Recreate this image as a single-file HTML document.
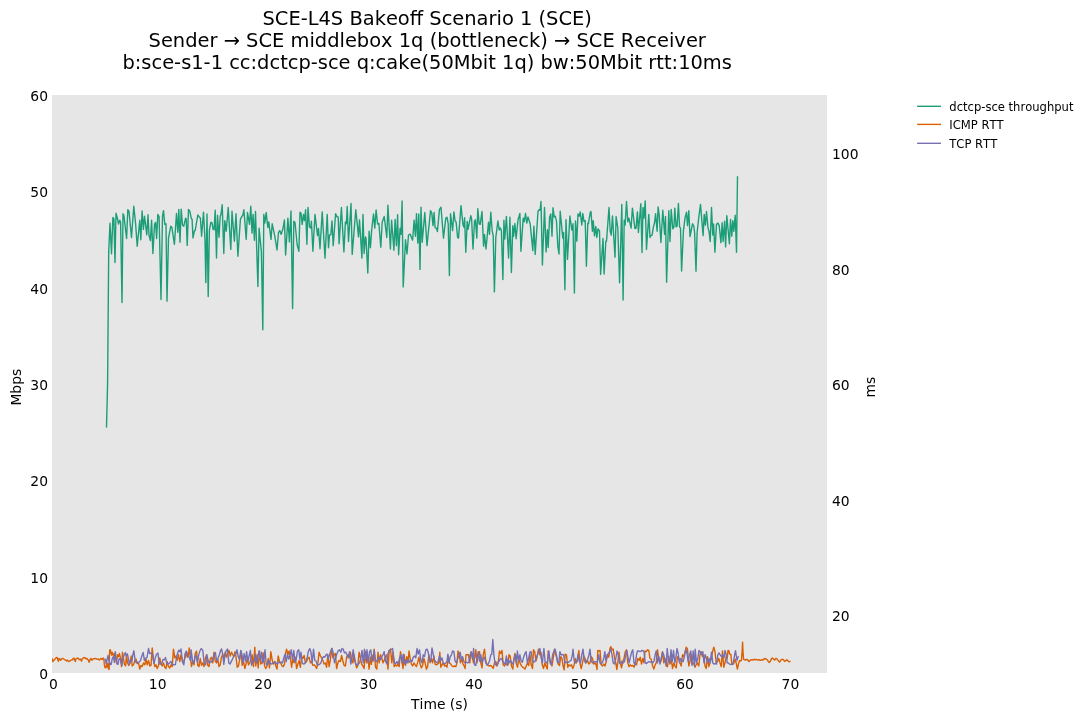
<!DOCTYPE html>
<html lang="en"><head><meta charset="utf-8"><title>SCE-L4S Bakeoff Scenario 1 (SCE)</title>
<style>
html,body{margin:0;padding:0;background:#fff;}
body{width:1088px;height:721px;overflow:hidden;}
svg{display:block;}
text{font-family:"DejaVu Sans","Liberation Sans",sans-serif;fill:#000;font-kerning:none;}
.tick{font-size:13.89px;}
.lab{font-size:13.89px;}
.leg{font-size:11.57px;}
.title{font-size:19.44px;}
.ln{fill:none;stroke-width:1.39;stroke-linejoin:round;stroke-linecap:butt;}
</style></head><body>
<svg width="1088" height="721" viewBox="0 0 1088 721">
<rect x="0" y="0" width="1088" height="721" fill="#ffffff"/>
<rect x="52" y="95" width="775" height="578" fill="#e6e6e6"/>
<clipPath id="ax"><rect x="52" y="95" width="775" height="578"/></clipPath>
<g clip-path="url(#ax)">
<polyline class="ln" stroke="#1b9e77" points="106.5,427.5 107.6,383.5 108.7,252.0 110.0,223.1 111.5,253.8 112.9,217.5 113.9,219.0 115.0,262.5 116.0,213.1 117.5,218.8 118.5,224.0 119.8,220.2 120.6,222.5 122.0,302.5 123.0,213.8 123.9,215.6 126.6,238.5 127.8,209.8 129.0,211.2 131.5,237.5 133.8,206.2 135.6,223.8 137.2,246.2 139.8,220.2 140.8,239.8 142.1,211.0 143.4,229.4 144.5,216.2 146.8,234.8 148.0,214.8 149.0,235.0 150.4,240.6 151.6,220.2 152.9,253.5 154.6,223.8 155.6,222.5 156.6,238.5 157.8,214.4 159.1,216.9 161.0,299.6 162.5,216.2 163.5,210.6 164.8,224.4 166.0,223.8 167.0,301.2 168.5,238.1 170.8,226.2 171.9,227.5 174.4,244.4 176.5,213.5 177.8,232.2 178.8,209.4 180.0,242.2 181.2,209.1 182.5,225.0 183.8,226.2 185.6,218.1 186.2,218.8 187.2,245.4 188.5,209.4 189.8,211.2 191.2,218.1 192.1,219.4 193.0,237.9 194.4,231.0 195.2,230.4 197.8,215.0 199.4,217.2 200.4,218.1 201.6,236.2 203.5,212.1 205.0,240.0 205.8,282.5 207.0,214.0 208.2,296.5 209.4,230.0 210.9,222.2 212.1,223.1 213.1,229.4 214.1,229.8 215.2,210.2 216.5,258.1 217.5,215.2 219.0,237.2 220.2,216.2 221.0,214.4 222.2,204.8 223.8,253.5 224.8,220.6 226.2,231.2 228.2,207.5 230.8,249.4 232.0,211.2 234.4,241.2 236.0,213.8 237.9,256.2 240.4,219.4 241.6,216.9 242.9,215.0 243.9,209.8 246.2,239.4 247.5,212.5 249.5,224.4 250.8,206.2 252.0,233.1 253.1,214.4 254.4,240.2 255.5,211.5 257.9,286.6 259.1,228.1 261.4,251.9 262.8,329.8 263.8,214.4 264.8,223.1 266.2,212.5 267.2,221.9 267.9,227.5 268.8,221.9 271.0,239.4 272.2,223.8 274.8,236.2 277.0,250.0 278.5,232.5 279.8,230.6 281.2,234.4 282.9,228.8 284.4,220.0 285.6,255.0 287.9,218.1 289.4,241.9 291.0,211.0 292.6,308.5 293.8,221.2 295.0,222.5 297.2,245.0 298.9,251.2 300.0,212.2 301.0,213.1 302.2,224.4 303.5,214.4 304.5,220.6 305.6,209.8 306.9,244.4 308.0,207.5 309.5,226.9 310.8,228.1 311.4,221.2 312.9,251.2 315.0,214.4 317.5,235.6 318.5,228.5 320.0,248.8 322.2,211.9 325.0,258.1 327.2,214.4 328.5,247.8 329.5,235.0 330.8,234.8 332.0,221.0 333.2,245.6 335.6,213.8 337.0,216.9 338.2,216.9 339.1,243.8 341.4,207.5 343.9,251.9 345.4,221.9 346.4,223.8 347.2,206.5 348.5,241.5 351.0,203.5 352.2,254.4 355.8,209.8 358.5,236.9 359.5,220.0 361.9,258.1 363.0,214.4 364.1,253.5 365.4,236.9 366.0,238.1 367.8,273.1 369.1,231.2 370.4,247.8 371.6,230.9 373.5,214.0 374.8,228.1 376.1,210.0 377.6,224.0 378.9,223.5 380.8,247.2 382.2,222.2 384.2,216.5 386.8,237.5 387.9,205.2 390.4,249.0 391.6,220.2 393.9,250.2 395.1,219.4 396.4,245.6 397.6,214.8 398.6,254.8 400.1,228.1 401.0,234.4 402.1,201.0 403.2,286.9 405.5,239.8 407.0,254.0 408.5,235.0 410.1,234.0 412.6,240.2 414.1,220.2 415.4,236.2 416.5,213.8 417.8,243.1 418.8,214.0 420.0,269.4 421.0,207.2 422.2,242.2 424.8,212.5 427.0,245.6 430.5,210.6 431.8,213.1 433.0,225.6 434.1,212.5 435.1,227.8 436.4,228.1 437.4,231.5 439.5,209.4 441.0,207.2 443.5,238.1 445.8,218.1 447.0,217.2 448.2,223.8 449.4,275.6 450.5,213.8 452.6,230.6 453.9,211.9 455.1,221.0 456.1,221.9 457.6,237.5 458.5,238.1 461.0,205.6 463.0,225.0 464.0,227.2 464.6,217.8 465.8,252.2 467.2,221.5 468.0,229.4 470.8,215.6 471.6,218.8 473.0,249.0 474.5,221.2 475.4,219.8 476.8,238.1 477.8,208.8 479.2,224.0 480.2,224.4 482.0,211.5 483.6,246.2 484.5,234.4 486.0,249.0 488.5,222.2 489.5,234.4 490.8,212.2 492.2,231.2 493.2,235.6 494.4,291.9 495.8,237.5 497.9,221.0 499.2,230.0 500.1,227.8 501.4,230.6 502.9,279.6 503.9,220.2 504.8,239.0 506.4,216.5 508.6,258.1 509.9,217.2 511.4,272.5 512.8,225.6 513.6,236.2 514.9,223.5 516.1,238.8 518.0,220.0 519.9,213.5 520.9,251.2 523.2,218.1 524.2,221.9 525.5,213.5 526.8,223.1 528.0,216.9 530.2,224.0 532.8,250.6 533.9,226.2 535.2,254.4 538.0,211.2 539.2,209.8 540.1,210.0 541.0,201.5 542.4,265.0 544.5,207.5 546.1,251.9 547.4,229.8 548.2,247.5 549.6,217.2 550.8,214.0 552.0,236.2 553.0,207.8 554.2,216.9 555.2,216.2 556.5,221.2 557.8,246.2 559.0,254.0 560.2,211.2 562.8,238.1 563.6,232.5 564.9,289.8 566.0,219.8 567.5,259.4 569.9,216.0 571.8,230.0 573.0,223.8 574.4,293.1 575.5,221.0 576.8,241.2 578.0,214.0 579.2,216.2 580.2,211.9 581.8,225.0 582.8,213.5 584.0,221.5 585.2,220.6 586.4,266.2 587.8,223.1 588.4,223.8 590.2,212.5 591.0,211.5 592.4,231.2 593.2,220.6 594.5,236.0 595.8,226.5 596.8,237.5 598.0,228.8 599.5,231.0 600.6,274.4 603.0,238.5 604.1,274.0 605.8,241.2 606.5,241.2 609.0,207.5 610.2,231.2 611.2,235.2 612.5,216.0 615.0,257.2 616.1,216.5 617.8,228.1 619.6,282.8 621.8,204.4 623.1,300.0 624.2,220.2 625.1,225.0 626.5,201.5 627.8,221.9 628.9,218.1 631.1,228.1 632.4,208.1 634.9,228.5 636.1,228.1 637.4,211.9 638.4,232.5 640.8,203.8 642.0,252.5 643.0,207.5 644.0,218.1 645.2,201.0 646.5,249.4 648.8,214.4 650.0,237.5 650.9,235.6 652.1,235.2 653.4,226.9 654.6,222.5 655.6,213.8 657.1,231.2 658.1,206.9 659.2,215.0 660.9,242.5 662.8,210.2 664.6,234.4 665.5,216.5 666.6,282.2 668.8,210.6 670.0,241.5 671.2,209.4 672.8,228.8 674.0,226.9 674.8,208.1 676.1,226.9 677.1,226.2 678.4,203.5 679.6,226.9 680.5,228.1 681.6,271.0 683.4,231.2 685.0,218.1 686.5,212.2 687.5,225.6 688.8,210.6 690.0,236.5 692.5,223.8 693.8,226.2 694.6,232.5 696.0,271.2 697.1,232.5 699.0,215.6 700.5,204.4 703.1,235.6 704.2,214.4 705.4,225.2 706.5,211.5 708.0,228.1 709.0,231.2 710.2,241.5 711.5,207.5 712.8,235.0 713.6,224.0 714.9,252.2 716.5,224.4 718.0,223.1 719.2,225.6 720.9,242.8 722.1,222.8 723.1,241.5 724.6,221.2 725.6,246.9 726.8,215.6 729.4,243.8 730.5,219.4 731.8,236.2 732.8,220.6 733.8,231.2 735.2,215.2 736.5,252.2 737.5,176.2"/>
<polyline class="ln" stroke="#d95f02" points="52.2,658.4 52.8,661.6 54.1,660.0 55.3,658.8 56.2,657.8 57.0,657.4 57.6,658.8 58.3,661.2 59.1,658.4 59.9,659.1 60.6,660.3 61.6,658.8 62.5,658.4 63.4,658.8 64.7,659.7 65.6,660.1 66.6,661.1 67.5,660.1 68.8,661.6 70.0,660.9 71.2,660.0 72.5,659.9 73.2,658.4 74.1,658.1 74.7,660.0 75.3,661.6 75.9,658.8 76.9,658.4 77.8,658.0 78.4,658.8 79.4,659.7 80.3,659.1 80.9,660.0 81.6,661.2 82.2,658.8 83.1,658.1 84.1,657.5 85.0,657.8 85.9,658.8 86.9,658.4 87.5,659.4 88.4,660.0 89.1,662.2 90.0,659.7 90.9,658.4 91.9,660.3 92.8,659.1 93.8,658.6 94.7,658.8 95.6,658.4 96.6,658.8 97.5,659.4 98.4,659.1 99.4,660.1 100.3,658.8 101.2,658.4 102.2,659.4 103.1,658.1 103.8,658.8 104.4,665.0 105.0,667.5 105.9,667.8 106.6,664.7 107.2,666.9 107.8,663.1 108.4,668.8 109.1,669.4 109.4,658.8 109.7,650.0 110.3,649.7 110.9,652.5 111.6,655.0 112.2,652.2 112.8,653.8 113.4,655.6 114.1,657.2 114.4,653.5 115.6,657.2 116.5,662.9 117.5,654.8 118.5,656.6 119.4,653.5 120.4,657.9 121.5,666.6 122.5,652.2 123.5,658.5 124.4,664.1 125.6,666.0 126.5,654.8 127.5,662.9 128.8,665.4 130.0,662.9 131.2,656.0 132.2,666.0 133.5,664.8 134.8,661.0 136.0,659.1 137.2,663.5 138.5,662.9 139.8,669.1 141.0,665.4 142.2,666.6 143.5,662.9 144.8,664.8 146.0,659.1 147.2,664.8 148.5,660.4 149.8,666.0 151.0,665.4 152.2,647.9 153.5,659.8 154.8,666.6 156.0,664.8 157.2,668.5 158.5,665.4 159.8,657.9 161.0,664.1 162.2,666.0 163.5,662.9 164.8,667.2 166.0,668.5 167.2,661.6 168.5,666.6 169.8,667.9 171.0,664.8 172.2,666.6 173.5,649.1 174.8,657.9 176.0,656.0 177.2,660.4 178.5,654.8 179.8,661.6 181.0,654.8 182.2,659.8 183.5,662.9 184.8,658.5 186.0,652.2 187.2,657.2 188.5,654.8 189.2,647.9 190.2,656.0 191.5,666.6 192.8,661.0 194.0,664.8 195.2,653.5 196.5,651.0 197.8,665.4 199.0,666.6 200.2,658.5 201.5,665.4 202.8,662.9 204.0,666.6 205.2,659.1 206.5,654.8 207.8,665.4 209.0,666.6 210.2,659.1 211.5,657.2 212.8,662.9 214.0,652.2 215.2,661.0 216.5,662.9 217.8,659.1 219.0,666.6 220.2,664.8 221.5,657.2 222.8,654.1 224.0,659.1 225.2,652.2 226.5,657.2 227.8,652.9 229.0,650.4 230.2,656.0 231.5,652.2 232.8,654.8 234.0,656.6 235.0,651.6 236.0,656.6 237.2,667.2 238.5,666.0 239.8,658.5 241.0,651.0 242.2,665.4 243.5,661.0 244.8,668.5 246.0,664.1 247.2,658.5 248.5,664.8 249.8,662.9 251.0,658.5 252.2,654.8 253.5,666.6 254.8,647.2 255.8,666.0 257.0,654.8 258.2,667.9 259.5,651.0 260.8,664.1 262.0,662.9 263.2,652.9 264.5,665.4 265.8,668.5 267.0,666.0 268.2,658.5 269.5,667.9 270.8,651.6 272.0,659.1 273.2,664.1 274.5,661.6 275.8,666.0 277.0,669.1 278.2,656.0 279.5,661.6 280.8,662.9 282.0,666.0 283.2,666.6 284.5,664.1 285.8,652.2 286.6,649.1 287.9,654.8 289.1,651.0 290.4,657.9 291.6,667.2 292.9,658.5 294.1,662.9 295.4,657.2 296.6,668.5 297.9,664.1 299.1,660.4 300.4,667.2 301.6,656.6 302.9,658.5 304.1,655.4 305.4,662.9 306.6,661.6 307.9,658.5 309.1,657.2 310.4,662.9 311.6,661.6 312.9,665.4 314.1,664.8 315.4,666.0 316.6,668.5 317.9,662.9 319.1,652.2 320.4,656.0 321.6,657.9 322.9,660.4 324.1,664.1 325.4,662.9 326.6,667.2 327.9,654.8 329.1,666.6 330.4,659.8 331.6,648.5 332.9,657.9 334.1,654.8 335.4,653.5 336.6,668.5 337.9,662.9 339.1,660.4 340.4,661.6 341.6,655.4 342.9,661.0 344.1,665.4 345.4,666.0 346.6,657.2 347.9,654.8 349.1,657.9 350.4,652.2 351.6,659.8 352.9,662.9 354.1,654.8 355.4,662.9 356.6,667.9 357.9,665.4 359.1,652.2 360.4,657.9 361.6,664.1 362.9,666.0 364.1,668.5 365.4,651.6 366.6,662.9 367.9,656.0 369.1,669.1 370.4,657.2 371.4,664.4 372.0,654.8 373.2,661.0 374.2,649.1 375.5,667.2 376.8,669.1 378.0,652.2 379.2,662.9 380.5,654.8 381.8,657.9 383.0,662.9 384.2,660.4 385.5,656.6 386.8,654.8 388.0,669.1 389.2,651.0 390.5,649.1 391.8,662.9 393.0,652.2 394.2,666.6 395.5,664.8 396.8,666.0 398.0,664.1 399.2,666.6 400.5,651.6 401.8,661.0 403.0,668.5 404.2,654.8 405.5,665.4 406.8,656.6 408.0,662.9 409.0,651.0 410.1,657.9 411.4,664.1 412.6,666.0 413.9,662.9 415.1,664.8 416.4,666.6 417.6,662.9 418.9,657.2 420.1,664.1 421.4,667.9 422.6,665.4 423.9,658.5 425.1,662.9 426.4,669.1 427.6,666.6 428.9,654.8 430.1,662.9 431.4,658.5 432.6,662.9 433.9,656.0 435.1,664.1 436.4,664.8 437.6,664.1 438.9,662.9 439.8,652.2 440.8,667.2 442.0,664.8 443.2,662.9 444.5,666.0 445.8,665.4 447.0,667.2 448.2,656.0 449.5,662.9 450.8,664.1 452.0,666.0 453.2,666.6 454.5,666.0 455.8,666.6 457.0,662.9 458.0,651.0 459.2,654.8 460.5,662.9 461.8,658.5 463.0,664.1 464.2,666.0 465.1,668.5 466.0,654.8 467.2,654.8 468.5,654.8 469.8,662.9 471.0,651.6 472.2,656.6 473.5,662.9 474.8,657.2 475.8,649.8 477.0,662.9 478.2,654.8 479.5,651.6 480.8,662.9 482.0,667.9 483.2,654.8 484.5,649.1 485.8,661.0 487.0,664.8 488.2,665.4 489.5,666.0 490.8,665.4 492.0,666.6 493.2,668.5 494.5,662.9 495.8,661.6 497.0,666.0 498.2,662.9 499.5,651.0 500.8,653.5 502.0,650.4 503.2,664.8 504.5,666.0 505.8,662.9 507.0,664.8 508.0,664.8 509.0,654.8 510.2,656.0 511.5,666.0 512.8,669.1 514.0,658.5 515.0,653.5 516.2,662.9 517.5,667.2 518.8,658.5 520.0,662.9 521.2,665.4 522.5,667.2 523.8,667.9 525.0,669.1 526.2,666.0 527.5,662.9 528.8,665.4 530.0,654.8 531.2,664.8 532.5,668.5 533.5,649.8 534.8,652.2 536.0,661.0 537.2,656.6 538.5,649.1 539.8,654.8 541.0,652.2 542.2,664.8 543.5,668.5 544.8,662.9 546.0,666.0 547.2,669.1 548.2,651.0 549.5,657.9 550.8,662.9 552.0,666.0 553.2,658.5 554.5,649.1 555.8,654.8 557.0,658.5 558.2,664.1 559.5,665.4 560.8,656.6 562.0,658.5 563.2,666.6 564.2,669.8 565.2,654.1 566.5,654.8 567.8,667.2 569.0,664.8 570.2,666.0 571.5,664.8 572.8,668.5 574.0,665.4 575.2,658.5 576.5,662.9 577.8,658.5 578.8,650.4 580.0,662.9 581.2,668.5 582.5,662.9 583.8,656.0 585.0,658.5 586.2,662.9 587.5,660.4 588.8,664.1 590.0,662.9 591.2,656.6 592.5,658.5 593.8,664.1 595.0,662.9 596.2,664.8 597.0,669.5 597.8,650.4 599.0,651.0 600.0,650.4 601.2,664.8 602.5,666.0 603.8,664.1 605.0,666.0 606.2,661.6 607.5,654.8 608.8,657.2 610.0,648.5 610.8,646.6 612.0,649.8 613.2,649.1 614.5,657.9 615.8,662.9 616.8,669.5 617.8,662.9 619.0,652.2 620.2,662.9 621.5,667.9 622.8,661.6 624.0,658.5 625.2,652.2 626.5,649.8 627.8,662.9 629.0,666.6 630.2,664.8 631.5,666.0 632.8,665.4 634.0,667.2 635.2,662.9 636.5,664.8 637.8,658.5 639.0,660.4 640.2,657.2 641.5,664.1 642.8,658.5 644.0,662.9 645.0,651.0 646.2,651.6 647.5,649.8 648.8,650.4 650.0,658.5 651.2,659.1 652.5,665.4 653.8,669.1 655.0,665.4 656.2,662.9 657.5,649.8 658.8,658.5 660.0,662.9 661.2,660.4 662.5,651.6 663.8,662.9 665.0,658.5 666.2,666.0 667.5,666.6 668.8,656.6 670.0,664.1 671.2,658.5 672.5,668.5 673.8,662.9 675.0,666.0 676.2,667.9 677.5,656.6 678.8,658.5 680.0,662.9 681.2,666.0 682.5,654.8 683.8,656.6 685.0,652.2 686.2,647.2 687.5,649.1 688.8,666.0 690.0,661.6 691.2,654.8 692.5,664.1 693.8,662.9 695.0,667.2 696.2,664.8 697.5,662.9 698.8,666.0 700.0,654.8 701.2,651.6 702.5,656.6 703.8,654.8 705.0,666.0 706.2,668.5 707.5,656.6 708.8,666.6 710.0,662.9 711.2,658.5 712.5,652.2 713.8,647.2 715.0,651.6 716.2,662.9 717.5,661.6 718.8,658.5 720.0,662.9 721.2,666.6 722.5,651.0 723.8,667.2 725.0,662.9 726.2,656.6 727.2,658.5 728.0,650.4 728.9,650.7 729.6,654.1 730.8,654.1 731.8,663.8 733.3,664.1 734.2,662.2 735.4,659.1 737.4,669.1 738.6,663.5 739.6,660.7 740.5,661.0 741.4,660.4 742.1,651.6 742.6,642.2 743.0,651.6 743.6,659.4 744.6,659.6 745.5,660.1 746.8,659.2 747.9,660.1 748.9,661.5 750.2,660.4 751.4,659.6 752.7,660.1 753.9,659.2 755.2,659.9 756.4,659.4 757.7,660.1 758.9,659.6 760.2,660.4 761.4,659.8 762.7,660.1 763.9,659.1 764.9,658.4 766.1,659.2 767.4,659.8 768.3,661.6 769.2,662.6 770.5,661.0 771.4,658.8 772.4,657.9 773.6,659.2 774.6,660.1 775.8,658.4 776.8,658.6 777.7,659.8 778.6,661.0 779.6,662.1 780.8,660.1 782.1,659.2 783.3,659.6 784.6,661.3 785.8,660.7 786.8,659.6 788.0,661.0 789.2,661.9 790.5,661.0"/>
<polyline class="ln" stroke="#7570b3" points="105.0,658.8 105.6,660.6 106.2,663.8 107.2,658.8 108.1,655.3 108.8,660.6 109.7,662.5 110.3,664.7 111.2,664.4 112.2,658.8 113.1,656.9 113.8,658.8 114.4,662.5 115.3,651.6 116.2,658.8 116.9,663.8 118.0,664.4 119.0,659.1 120.0,658.5 120.8,660.4 121.9,665.4 123.1,657.9 124.4,654.5 125.4,652.5 126.2,655.8 127.4,653.9 128.5,659.1 129.4,664.5 130.4,660.8 131.9,661.0 132.9,654.5 133.9,650.8 135.0,659.8 136.0,662.6 136.9,662.0 137.9,663.1 139.1,662.0 140.6,660.4 141.9,655.8 143.2,652.5 144.4,660.4 145.6,658.1 147.0,657.5 148.5,648.5 149.6,653.5 151.0,653.1 152.5,654.4 153.9,663.5 155.2,658.1 156.4,654.5 158.0,653.1 159.1,663.5 160.4,664.0 161.8,663.5 163.0,659.5 164.4,659.8 165.5,657.5 166.8,663.5 168.1,664.0 169.5,663.1 170.9,661.4 172.2,664.5 173.8,664.8 175.4,664.5 176.5,657.5 177.5,653.5 178.8,650.1 180.0,652.0 181.0,648.9 182.4,661.6 183.8,664.8 185.1,653.5 186.5,651.2 187.9,655.8 189.2,657.2 190.5,660.8 191.1,649.8 192.5,660.4 193.9,663.5 195.2,656.2 196.1,655.4 197.5,662.6 198.8,654.4 200.0,650.8 201.2,648.5 202.8,650.4 204.1,662.9 205.6,664.8 206.9,654.8 207.8,659.1 209.0,662.9 210.2,661.6 211.5,662.2 212.9,659.8 214.1,654.8 215.4,652.5 216.6,661.0 217.9,658.5 219.4,654.8 220.4,651.0 221.5,648.9 222.8,654.8 223.8,664.5 225.0,654.8 226.2,650.8 227.5,649.1 228.8,662.9 230.0,664.1 231.2,661.6 232.5,659.1 233.8,656.0 235.0,654.8 236.0,653.5 237.0,649.8 238.2,656.6 239.5,659.8 240.8,650.4 242.0,654.8 242.9,662.9 244.1,653.5 245.4,661.0 246.6,651.6 247.9,661.6 249.1,656.0 250.4,650.4 251.6,665.4 252.9,661.0 254.1,661.6 255.4,654.8 256.6,662.9 257.9,656.0 259.1,651.0 260.4,661.0 261.6,652.2 262.9,662.9 264.1,657.9 265.0,649.8 266.2,664.1 267.5,664.8 268.8,660.4 270.0,662.9 271.2,664.1 272.5,663.2 273.8,662.9 275.0,661.6 276.2,663.8 277.5,663.2 278.8,662.2 280.0,662.9 281.2,662.0 282.5,662.9 283.8,657.9 285.0,654.1 286.2,661.6 287.5,654.8 288.8,659.1 290.0,654.8 291.2,649.8 292.5,659.8 293.8,650.4 295.0,662.2 296.2,659.1 297.5,651.0 298.8,649.8 299.8,659.1 301.0,652.2 302.2,662.9 303.5,664.1 304.8,663.5 306.0,661.0 307.2,657.2 308.5,651.0 309.8,648.5 311.0,652.2 312.2,662.9 313.5,649.1 314.8,660.4 316.0,661.0 317.2,664.5 318.5,664.8 319.8,664.1 321.0,662.9 322.2,658.5 323.5,656.6 324.8,657.2 326.0,654.8 327.0,654.1 328.2,659.1 329.5,654.8 330.8,651.0 332.0,648.5 333.2,652.9 334.5,662.9 335.8,657.2 337.0,653.5 338.2,650.8 339.5,649.8 340.8,652.2 342.0,648.5 343.2,649.1 344.5,652.9 345.8,652.2 347.0,654.8 348.2,657.9 349.5,651.6 350.8,664.1 352.0,658.5 353.2,649.8 354.5,659.1 355.8,664.1 357.0,664.8 358.2,664.1 359.5,662.9 360.8,658.5 362.0,650.4 363.2,662.9 364.5,649.1 365.8,660.4 367.0,649.8 368.2,662.9 369.5,652.2 370.8,649.8 372.0,661.6 373.2,658.5 374.2,650.4 375.5,661.0 376.8,661.6 378.0,658.5 379.2,657.2 380.5,659.8 381.8,656.6 383.0,654.8 384.2,651.6 385.5,661.0 386.8,664.1 388.0,653.5 389.2,650.4 390.5,649.8 391.8,649.1 392.6,648.5 393.5,656.0 394.5,662.9 395.8,663.5 397.0,661.6 398.2,664.1 399.5,658.5 400.8,654.8 402.0,662.9 403.2,654.1 404.5,664.1 405.8,660.4 407.0,662.9 408.2,659.1 409.5,662.2 410.8,660.4 412.0,661.6 413.2,657.2 414.5,656.0 415.8,657.9 417.0,648.5 418.2,654.1 419.5,649.8 420.8,660.4 422.0,662.9 423.2,654.8 424.5,656.6 425.8,649.8 427.0,649.1 428.2,652.2 429.5,660.4 430.8,661.6 432.0,647.9 433.2,654.1 434.5,660.4 435.8,661.6 437.0,662.9 438.2,661.6 439.5,656.0 440.8,660.4 442.0,657.9 443.2,662.9 444.5,664.1 445.8,662.9 447.0,661.6 447.9,654.1 448.9,662.9 450.1,657.2 451.4,654.8 452.6,651.0 453.9,651.6 455.1,661.0 456.4,662.9 457.6,659.1 458.9,656.0 460.1,652.2 461.4,659.8 462.6,656.6 463.9,661.6 465.1,662.9 466.4,662.2 467.6,662.9 468.9,662.2 470.1,654.8 471.4,652.2 472.6,659.1 473.6,648.5 474.5,664.8 475.8,665.4 477.0,658.5 478.2,651.6 479.5,661.0 480.8,654.8 482.0,662.9 483.2,659.1 484.5,657.2 485.8,662.9 487.0,664.8 488.2,664.1 489.5,661.0 490.8,654.8 491.8,654.1 492.8,639.5 493.9,654.8 495.1,664.1 496.4,665.4 497.6,662.9 498.9,661.6 500.1,659.1 501.4,658.5 502.6,661.0 503.9,662.9 505.1,664.1 506.4,656.0 507.4,665.4 508.0,659.1 509.2,662.9 510.5,660.4 511.8,662.9 513.0,664.1 514.2,658.5 515.5,654.8 516.5,662.9 517.4,651.0 518.6,660.4 519.9,654.8 521.1,661.0 522.4,662.2 523.6,657.2 524.9,653.5 526.1,651.6 527.4,662.9 528.6,658.5 529.9,652.2 531.1,651.6 532.4,660.4 533.6,662.2 534.9,661.6 536.1,658.5 537.4,654.8 538.6,651.0 539.9,648.5 541.1,657.9 542.4,662.9 543.9,648.5 545.1,661.6 546.4,662.9 547.6,661.0 548.9,651.0 550.1,662.9 551.4,664.8 552.6,654.8 553.9,651.6 555.1,649.1 556.4,654.8 557.6,662.9 558.9,662.2 559.9,651.6 561.1,654.8 562.4,654.8 563.6,654.8 564.9,662.9 566.1,662.2 567.4,662.9 568.6,662.2 569.9,661.0 571.1,660.4 572.4,654.8 573.0,649.1 574.2,661.0 575.5,662.9 576.8,661.6 578.0,654.8 579.2,661.0 580.5,662.9 581.8,654.8 583.0,649.1 584.2,659.8 585.5,662.9 586.8,661.0 588.0,658.5 589.0,654.8 590.0,649.1 591.2,661.0 592.5,662.9 593.8,661.6 595.0,661.6 596.2,662.2 597.5,661.6 598.8,654.8 600.0,662.9 601.2,664.1 602.5,662.2 603.8,658.5 604.8,651.6 606.0,661.0 607.2,654.8 608.5,653.5 609.8,651.6 610.8,649.1 612.0,654.8 613.2,662.9 614.5,664.1 615.8,658.5 617.0,651.0 618.2,654.8 619.5,662.9 620.8,664.1 622.0,661.0 623.2,662.9 624.5,661.6 625.8,654.8 626.8,650.4 628.0,657.2 629.2,662.9 630.5,656.6 631.8,651.6 632.8,649.8 634.0,662.9 635.2,664.8 636.5,654.8 637.5,651.0 638.8,651.0 640.0,651.6 641.2,651.0 642.5,650.4 644.0,651.6 645.2,662.9 646.5,663.5 647.8,662.2 649.0,661.6 650.2,662.2 651.5,661.6 652.8,662.9 654.0,661.0 655.2,654.8 656.2,651.0 657.5,662.9 658.8,656.6 660.0,664.1 661.2,658.5 662.5,652.2 663.8,654.8 665.0,661.0 666.2,665.4 667.2,648.5 668.5,660.4 669.8,662.9 671.0,649.8 672.2,661.6 673.5,650.4 674.8,662.9 676.0,656.6 677.0,648.5 678.2,653.5 679.5,662.9 680.8,658.5 682.0,661.0 683.2,661.6 684.5,656.0 685.8,649.1 687.0,653.5 688.2,661.6 689.5,654.8 690.8,651.0 692.0,665.4 693.2,651.0 694.5,666.0 695.2,649.1 696.5,662.9 697.8,658.5 699.0,650.4 700.2,652.2 701.5,654.8 702.8,651.6 704.0,662.9 705.2,654.8 706.5,658.5 707.8,662.9 709.0,658.5 710.2,662.9 711.5,652.2 712.8,662.9 714.0,664.1 715.2,663.5 716.5,664.1 717.8,654.8 719.0,652.9 720.2,654.8 721.5,656.6 722.8,654.8 724.0,657.9 725.0,650.4 726.2,654.8 727.2,662.9 728.0,662.9 729.2,663.8 730.8,664.6 732.7,664.4 733.6,661.0 734.6,654.8 735.5,650.7 736.1,654.8 737.1,660.4 738.0,656.9 738.6,656.3"/>
</g>
<text class="title" x="427.2" y="25" text-anchor="middle">SCE-L4S Bakeoff Scenario 1 (SCE)</text>
<text class="title" x="427.2" y="47" text-anchor="middle">Sender → SCE middlebox 1q (bottleneck) → SCE Receiver</text>
<text class="title" x="427.2" y="69" text-anchor="middle">b:sce-s1-1 cc:dctcp-sce q:cake(50Mbit 1q) bw:50Mbit rtt:10ms</text>
<text class="tick" x="48" y="679.1" text-anchor="end">0</text>
<text class="tick" x="48" y="582.8" text-anchor="end">10</text>
<text class="tick" x="48" y="486.4" text-anchor="end">20</text>
<text class="tick" x="48" y="390.1" text-anchor="end">30</text>
<text class="tick" x="48" y="293.8" text-anchor="end">40</text>
<text class="tick" x="48" y="197.4" text-anchor="end">50</text>
<text class="tick" x="48" y="101.1" text-anchor="end">60</text>
<text class="tick" x="832" y="621.3" text-anchor="start">20</text>
<text class="tick" x="832" y="505.7" text-anchor="start">40</text>
<text class="tick" x="832" y="390.1" text-anchor="start">60</text>
<text class="tick" x="832" y="274.5" text-anchor="start">80</text>
<text class="tick" x="832" y="158.9" text-anchor="start">100</text>
<text class="tick" x="53.4" y="689" text-anchor="middle">0</text>
<text class="tick" x="157.7" y="689" text-anchor="middle">10</text>
<text class="tick" x="263.2" y="689" text-anchor="middle">20</text>
<text class="tick" x="368.6" y="689" text-anchor="middle">30</text>
<text class="tick" x="474.1" y="689" text-anchor="middle">40</text>
<text class="tick" x="579.5" y="689" text-anchor="middle">50</text>
<text class="tick" x="685.0" y="689" text-anchor="middle">60</text>
<text class="tick" x="790.4" y="689" text-anchor="middle">70</text>
<text class="lab" x="439.5" y="709" text-anchor="middle">Time (s)</text>
<text class="lab" transform="translate(21,387.2) rotate(-90)" text-anchor="middle">Mbps</text>
<text class="lab" transform="translate(875,387.2) rotate(-90)" text-anchor="middle">ms</text>
<line x1="917.8" y1="106.3" x2="940.3" y2="106.3" stroke="#1b9e77" stroke-width="1.39" stroke-linecap="square"/>
<text class="leg" x="949.3" y="111.1">dctcp-sce throughput</text>
<line x1="917.8" y1="124.4" x2="940.3" y2="124.4" stroke="#d95f02" stroke-width="1.39" stroke-linecap="square"/>
<text class="leg" x="949.3" y="129.0">ICMP RTT</text>
<line x1="917.8" y1="143.3" x2="940.3" y2="143.3" stroke="#7570b3" stroke-width="1.39" stroke-linecap="square"/>
<text class="leg" x="949.3" y="147.7">TCP RTT</text>
</svg>
</body></html>
